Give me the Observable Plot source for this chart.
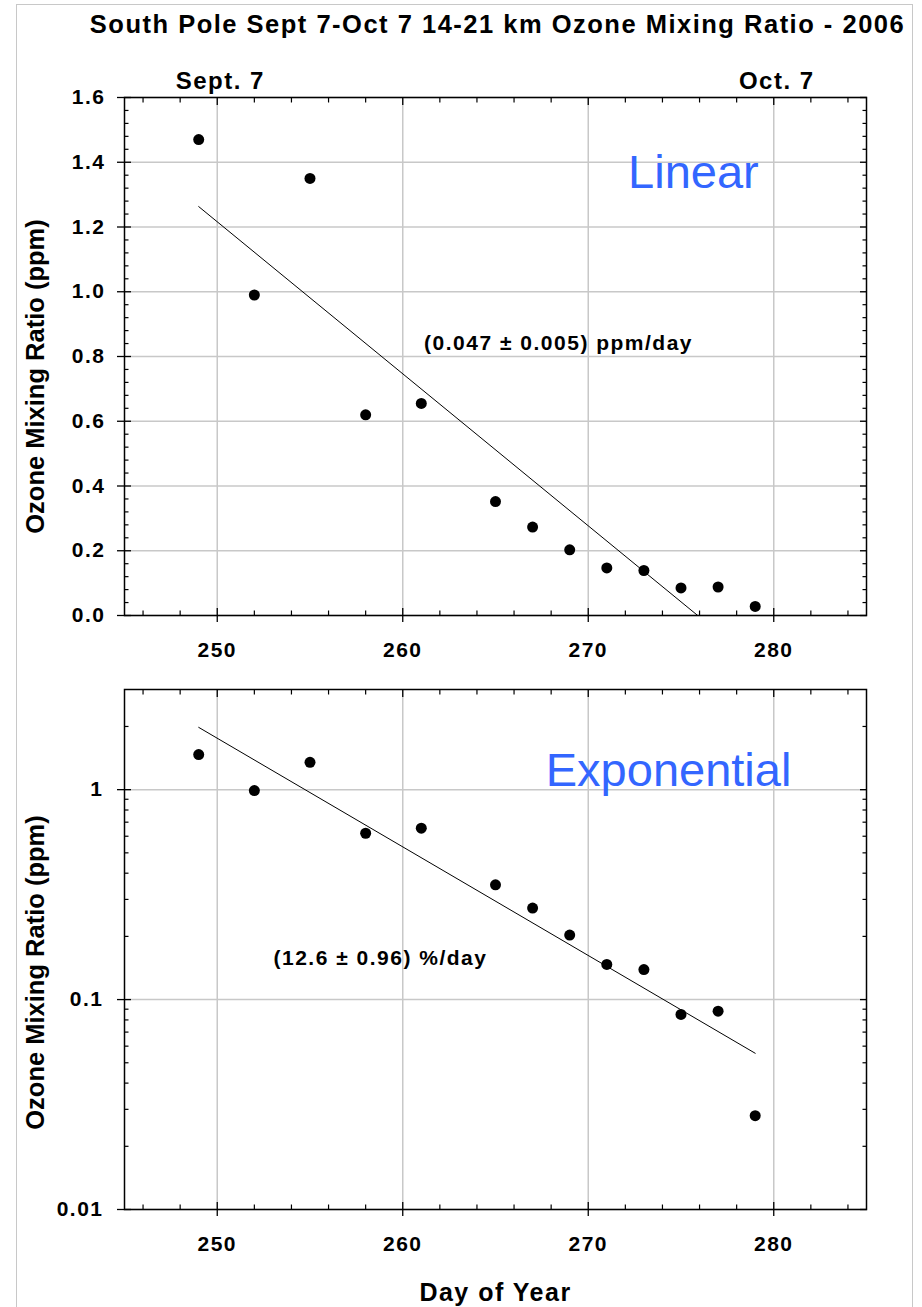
<!DOCTYPE html>
<html>
<head>
<meta charset="utf-8">
<script src="https://cdn.jsdelivr.net/npm/d3@7"></script>
<script src="https://cdn.jsdelivr.net/npm/@observablehq/plot@0.6"></script>
<style>
html, body { margin: 0; padding: 0; background: #fff; }
#wrap { position: relative; width: 922px; height: 1307px; overflow: hidden; }
#border { position: absolute; left: 16px; top: 4px; width: 897px; height: 1330px; border: 1px solid #c8c8c8; box-sizing: border-box; }
.panel { position: absolute; left: 0; }
svg text { letter-spacing: 1.5px; }
svg text.nospace { letter-spacing: 0; }
</style>
</head>
<body>
<div id="wrap">
  <div id="border"></div>
  <div id="top" class="panel" style="top:0px"></div>
  <div id="bottom" class="panel" style="top:680px"></div>
</div>
<script>
// ---- data ----
const days  = [249, 252, 255, 258, 261, 265, 267, 269, 271, 273, 275, 277, 279];
const ozone = [1.47, 0.99, 1.35, 0.62, 0.655, 0.352, 0.273, 0.203, 0.147, 0.139, 0.085, 0.088, 0.028];

// fitted lines (end points)
const linFitDays = [249, 275.9];
const linFitOzone = [1.263, 0];
const expFitDays = [249, 279];
const expFitOzone = [1.98, 0.0555];

// ticks & labels
const xMajor = [250, 260, 270, 280];
const xMinor = [246, 248, 252, 254, 256, 258, 262, 264, 266, 268, 272, 274, 276, 278, 282, 284];
const yMajorTop = [0, 0.2, 0.4, 0.6, 0.8, 1.0, 1.2, 1.4, 1.6];
const yMinorTop = [0.04, 0.08, 0.12, 0.16, 0.24, 0.28, 0.32, 0.36, 0.44, 0.48, 0.52, 0.56,
  0.64, 0.68, 0.72, 0.76, 0.84, 0.88, 0.92, 0.96, 1.04, 1.08, 1.12, 1.16, 1.24, 1.28, 1.32, 1.36,
  1.44, 1.48, 1.52, 1.56];
const yMajorBottom = [0.01, 0.1, 1];
const yMinorBottom = [0.02, 0.03, 0.04, 0.05, 0.06, 0.07, 0.08, 0.09,
  0.2, 0.3, 0.4, 0.5, 0.6, 0.7, 0.8, 0.9, 2];
const dateDays = [250, 280];
const dateLabels = ["Sept. 7", "Oct. 7"];

const titleText = ["South Pole Sept 7-Oct 7 14-21 km Ozone Mixing Ratio - 2006"];
const yLabelText = ["Ozone Mixing Ratio (ppm)"];
const xLabelText = ["Day of Year"];
const linLabel = ["Linear"];
const expLabel = ["Exponential"];
const linRate = ["(0.047 \u00b1 0.005) ppm/day"];
const expRate = ["(12.6 \u00b1 0.96) %/day"];

// ---- helpers ----
const FONT = "'Liberation Sans', Arial, Helvetica, sans-serif";
const GRID = "#c8c8c8";
const BLUE = "#3366ff";
const blank = () => "";
const noSpacing = new Set([...yLabelText, ...linLabel, ...expLabel]);

function frameTicks(kind, major, minor, fmt, tickPadding) {
  const A = kind === "x" ? Plot.axisX : Plot.axisY;
  const [a1, a2] = kind === "x" ? ["bottom", "top"] : ["left", "right"];
  return [
    A({anchor: a1, ticks: major, tickSize: 7, tickPadding, tickFormat: fmt, fontSize: 21, label: null, strokeWidth: 1.3}),
    A({anchor: a1, ticks: major, tickSize: -7, tickFormat: blank, label: null, strokeWidth: 1.3}),
    A({anchor: a1, ticks: minor, tickSize: -4.5, tickFormat: blank, label: null, strokeWidth: 1.2}),
    A({anchor: a2, ticks: major, tickSize: -7, tickFormat: blank, label: null, strokeWidth: 1.3}),
    A({anchor: a2, ticks: minor, tickSize: -4.5, tickFormat: blank, label: null, strokeWidth: 1.2})
  ];
}

function markNoSpacing(svg) {
  svg.querySelectorAll("text").forEach(t => {
    if (noSpacing.has(t.textContent)) t.classList.add("nospace");
  });
  return svg;
}

const style = {fontFamily: FONT, fontWeight: "bold", color: "black", background: "transparent", overflow: "visible"};

// ---- top (linear) panel ----
const topPlot = Plot.plot({
  width: 922, height: 680,
  marginTop: 97, marginBottom: 65, marginLeft: 124, marginRight: 56,
  style,
  x: {domain: [245, 285]},
  y: {domain: [0, 1.6]},
  marks: [
    Plot.gridX({ticks: xMajor, stroke: GRID, strokeOpacity: 1, strokeWidth: 1.5}),
    Plot.gridY({ticks: yMajorTop, stroke: GRID, strokeOpacity: 1, strokeWidth: 1.5}),
    Plot.line(linFitDays, {x: linFitDays, y: linFitOzone, stroke: "black", strokeWidth: 1}),
    Plot.dot(days, {x: days, y: ozone, r: 5.5, fill: "black"}),
    Plot.frame({stroke: "black", strokeWidth: 1.5}),
    ...frameTicks("x", xMajor, xMinor, d => String(d), 20),
    ...frameTicks("y", yMajorTop, yMinorTop, d3.format(".1f"), 12),
    Plot.text(titleText, {text: d => d, frameAnchor: "top", dx: 2, dy: -65, lineAnchor: "bottom", fontSize: 25.5}),
    Plot.text(dateLabels, {x: dateDays, text: dateLabels, frameAnchor: "top", dx: 3, dy: -9, lineAnchor: "bottom", fontSize: 24}),
    Plot.text(yLabelText, {text: d => d, frameAnchor: "left", textAnchor: "middle", dx: -81, dy: 20, rotate: -90, lineAnchor: "bottom", fontSize: 25.5}),
    Plot.text(linLabel, {text: d => d, x: 275.67, y: 1.322, lineAnchor: "bottom", fontSize: 47, fontWeight: "normal", fill: BLUE}),
    Plot.text(linRate, {text: d => d, x: 268.4, y: 0.82, lineAnchor: "bottom", fontSize: 21})
  ]
});
document.getElementById("top").appendChild(markNoSpacing(topPlot));

// ---- bottom (log) panel ----
const bottomPlot = Plot.plot({
  width: 922, height: 627,
  marginTop: 9, marginBottom: 98, marginLeft: 124, marginRight: 56,
  style,
  x: {domain: [245, 285]},
  y: {type: "log", domain: [0.01, 3]},
  marks: [
    Plot.gridX({ticks: xMajor, stroke: GRID, strokeOpacity: 1, strokeWidth: 1.5}),
    Plot.gridY({ticks: yMajorBottom, stroke: GRID, strokeOpacity: 1, strokeWidth: 1.5}),
    Plot.line(expFitDays, {x: expFitDays, y: expFitOzone, stroke: "black", strokeWidth: 1}),
    Plot.dot(days, {x: days, y: ozone, r: 5.5, fill: "black"}),
    Plot.frame({stroke: "black", strokeWidth: 1.5}),
    ...frameTicks("x", xMajor, xMinor, d => String(d), 20),
    ...frameTicks("y", yMajorBottom, yMinorBottom, d => String(d), 14),
    Plot.text(xLabelText, {text: d => d, frameAnchor: "bottom", dy: 91, lineAnchor: "bottom", fontSize: 25}),
    Plot.text(yLabelText, {text: d => d, frameAnchor: "left", textAnchor: "middle", dx: -81, dy: 23, rotate: -90, lineAnchor: "bottom", fontSize: 25.5}),
    Plot.text(expLabel, {text: d => d, x: 274.33, y: 1.037, lineAnchor: "bottom", fontSize: 47, fontWeight: "normal", fill: BLUE}),
    Plot.text(expRate, {text: d => d, x: 258.8, y: 0.1466, lineAnchor: "bottom", fontSize: 21})
  ]
});
document.getElementById("bottom").appendChild(markNoSpacing(bottomPlot));
</script>
</body>
</html>
